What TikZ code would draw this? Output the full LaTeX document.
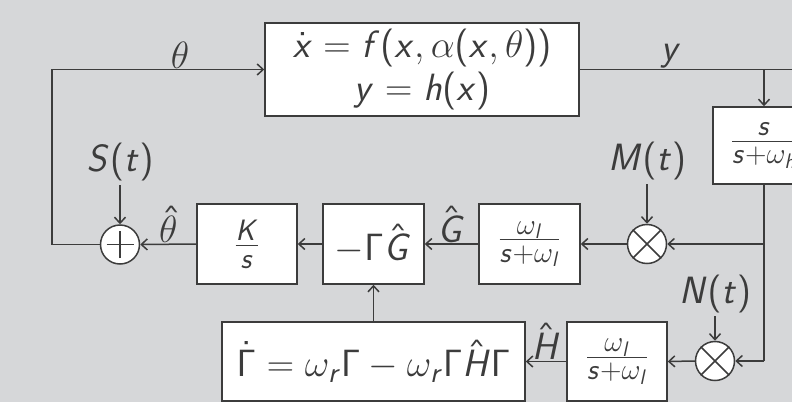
\RequirePackage{fix-cm}
\documentclass[tikz,border=0pt]{standalone}
\usetikzlibrary{arrows.meta}
\DeclareSymbolFont{operators}{OT1}{cmss}{m}{n}
\DeclareSymbolFont{sfletters}{OT1}{cmss}{m}{sl}
\DeclareMathSymbol{x}{\mathalpha}{sfletters}{`x}
\DeclareMathSymbol{y}{\mathalpha}{sfletters}{`y}
\DeclareMathSymbol{f}{\mathalpha}{sfletters}{`f}
\DeclareMathSymbol{h}{\mathalpha}{sfletters}{`h}
\DeclareMathSymbol{s}{\mathalpha}{sfletters}{`s}
\DeclareMathSymbol{t}{\mathalpha}{sfletters}{`t}
\DeclareMathSymbol{l}{\mathalpha}{sfletters}{`l}
\DeclareMathSymbol{r}{\mathalpha}{sfletters}{`r}
\DeclareMathSymbol{K}{\mathalpha}{sfletters}{`K}
\DeclareMathSymbol{G}{\mathalpha}{sfletters}{`G}
\DeclareMathSymbol{H}{\mathalpha}{sfletters}{`H}
\DeclareMathSymbol{S}{\mathalpha}{sfletters}{`S}
\DeclareMathSymbol{M}{\mathalpha}{sfletters}{`M}
\DeclareMathSymbol{N}{\mathalpha}{sfletters}{`N}
\DeclareMathSymbol{\Gamma}{\mathalpha}{operators}{"00}
\DeclareMathSizes{38}{38}{29.5}{21}
\definecolor{bg}{HTML}{D6D7D9}
\definecolor{ink}{HTML}{3C3C3C}
\begin{document}
\begin{tikzpicture}[x=1pt,y=-1pt,
  every node/.style={text=ink, font=\fontsize{38}{43}\selectfont},
  blk/.style={draw=ink, fill=white, line width=1.5pt, inner sep=0pt, align=center},
  sumc/.style={draw=ink, fill=white, circle, line width=1.5pt, minimum size=39pt, inner sep=0pt},
  lbl/.style={anchor=south, inner sep=1pt},
  sig/.style={anchor=south, inner sep=4pt},
  line/.style={draw=ink, line width=1.5pt},
  arr/.style={line, -{Straight Barb[length=6pt,width=11pt]}},
]
\fill[bg] (0,0) rectangle (792,402);
\useasboundingbox (0,0) rectangle (792,402);
\clip (0,0) rectangle (792,402);

% blocks
\node[blk, minimum width=314pt, minimum height=93pt] (plant) at (422,69.5) {$\dot x = f(x,\alpha(x,\theta))$\\$y = h(x)$};
\node[blk, minimum width=102pt, minimum height=77pt] (hpf) at (764,145.5) {$\frac{s}{s+\omega_h}$};
\node[blk, minimum width=101pt, minimum height=80pt] (lpf1) at (529.5,244) {$\frac{\omega_l}{s+\omega_l}$};
\node[blk, minimum width=101pt, minimum height=80pt] (gg) at (373.5,244) {$-\Gamma\hat G$};
\node[blk, minimum width=100pt, minimum height=80pt] (ks) at (247,244) {$\frac{K}{s}$};
\node[blk, minimum width=100pt, minimum height=79pt] (lpf2) at (617,361.5) {$\frac{\omega_l}{s+\omega_l}$};
\node[blk, minimum width=303pt, minimum height=79pt] (gam) at (373.5,361.5) {$\dot\Gamma = \omega_r\Gamma - \omega_r\Gamma\hat H\Gamma$};

% junctions
\node[sumc] (plus) at (120,244.5) {};
\draw[line] ([xshift=-13.5pt]plus.center) -- ([xshift=13.5pt]plus.center);
\draw[line] ([yshift=-13.5pt]plus.center) -- ([yshift=13.5pt]plus.center);
\node[sumc] (mm) at (647,244) {};
\draw[line] (mm.north east) -- (mm.south west);
\draw[line] (mm.north west) -- (mm.south east);
\node[sumc] (nn) at (715,361) {};
\draw[line] (nn.north east) -- (nn.south west);
\draw[line] (nn.north west) -- (nn.south east);

% external signals
\node[sig] (S) at (120,185) {$S(t)$};
\node[sig] (M) at (647,184) {$M(t)$};
\node[sig, inner sep=3pt] (N) at (715,316) {$N(t)$};
\draw[arr] (S.south) -- (plus.north);
\draw[arr] (M.south) -- (mm.north);
\draw[arr] (N.south) -- (nn.north);

% output path
\coordinate (yend) at (800,69.5);
\coordinate (ybr) at (764,69.5);
\coordinate (rm) at (764,244);
\coordinate (rb) at (764,361);
\draw[line] (plant.east) -- (yend);
\node[lbl] (ylab) at (671,69.5) {$y$};
\draw[arr] (ybr) -- (hpf.north);
\draw[line] (hpf.south) -- (rb);
\draw[arr] (rm) -- (mm.east);
\draw[arr] (rb) -- (nn.east);

% middle row
\draw[arr] (mm.west) -- (lpf1.east);
\draw[arr] (lpf1.west) -- node[lbl] (Glab) {$\hat G$} (gg.east);
\draw[arr] (gg.west) -- (ks.east);
\draw[arr] (ks.west) -- node[lbl] (thhat) {$\hat\theta$} (plus.east);

% feedback to plant
\coordinate (tl) at (52,244.5);
\draw[arr] (plus.west) -- (tl) |- (plant.west);
\node[lbl] (thlab) at (180,69.5) {$\theta$};

% bottom row
\draw[arr] (nn.west) -- (lpf2.east);
\draw[arr] (lpf2.west) -- node[lbl] (Hlab) {$\hat H$} (gam.east);
\draw[arr] (gam.north) -- (gg.south);
\end{tikzpicture}
\end{document}
